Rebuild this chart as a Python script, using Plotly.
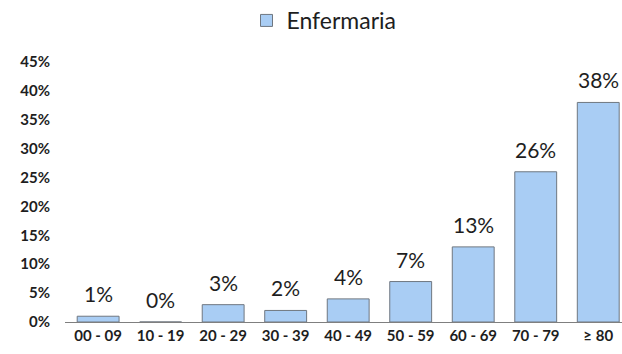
import plotly.graph_objects as go

# Age groups and share of ward admissions (%)
age_groups = ["00 - 09", "10 - 19", "20 - 29", "30 - 39", "40 - 49",
              "50 - 59", "60 - 69", "70 - 79", "≥ 80"]
enfermaria = [1, 0, 3, 2, 4, 7, 13, 26, 38]
y_ticks = [0, 5, 10, 15, 20, 25, 30, 35, 40, 45]

x_pos = list(range(len(age_groups)))
y_frac = [v / 100 for v in enfermaria]

fig = go.Figure()
fig.add_trace(go.Bar(
    x=x_pos,
    y=y_frac,
    name="Enfermaria",
    width=0.67,
    marker=dict(color="#A9CDF4", line=dict(color="#6F7780", width=1)),
))

# Value labels above each bar
for xi, yi, v in zip(x_pos, y_frac, enfermaria):
    fig.add_annotation(
        x=xi, y=yi, text=f"{v}%", showarrow=False,
        xanchor="center", yanchor="bottom", yshift=8,
        font=dict(family="Lato", size=21, color="#1e1e1e"),
    )

fig.update_layout(
    width=622, height=354,
    margin=dict(l=65, r=0, t=62, b=32, autoexpand=False),
    paper_bgcolor="white", plot_bgcolor="white",
    font=dict(family="Lato", color="#1e1e1e"),
    showlegend=True,
    legend=dict(orientation="h", x=0.465, xanchor="center", y=1.077, yanchor="bottom",
                font=dict(size=23, color="#1e1e1e"), itemwidth=30),
    bargap=0.33,
)
fig.update_xaxes(
    tickmode="array", tickvals=x_pos, ticktext=age_groups,
    range=[-0.53, 8.38],
    showline=True, linecolor="#7f7f7f", linewidth=1.2,
    ticks="", showgrid=False,
    tickfont=dict(family="Lato", size=15, color="#1e1e1e", weight="bold"),
)
fig.update_yaxes(
    range=[0, 0.45],
    tickmode="array", tickvals=[t / 100 for t in y_ticks],
    ticktext=[f"{t}%" for t in y_ticks],
    showgrid=False, zeroline=False, showline=False, ticks="",
    ticklabelstandoff=14,
    tickfont=dict(family="Lato", size=15, color="#1e1e1e", weight="bold"),
)

fig.write_html("out.html")
